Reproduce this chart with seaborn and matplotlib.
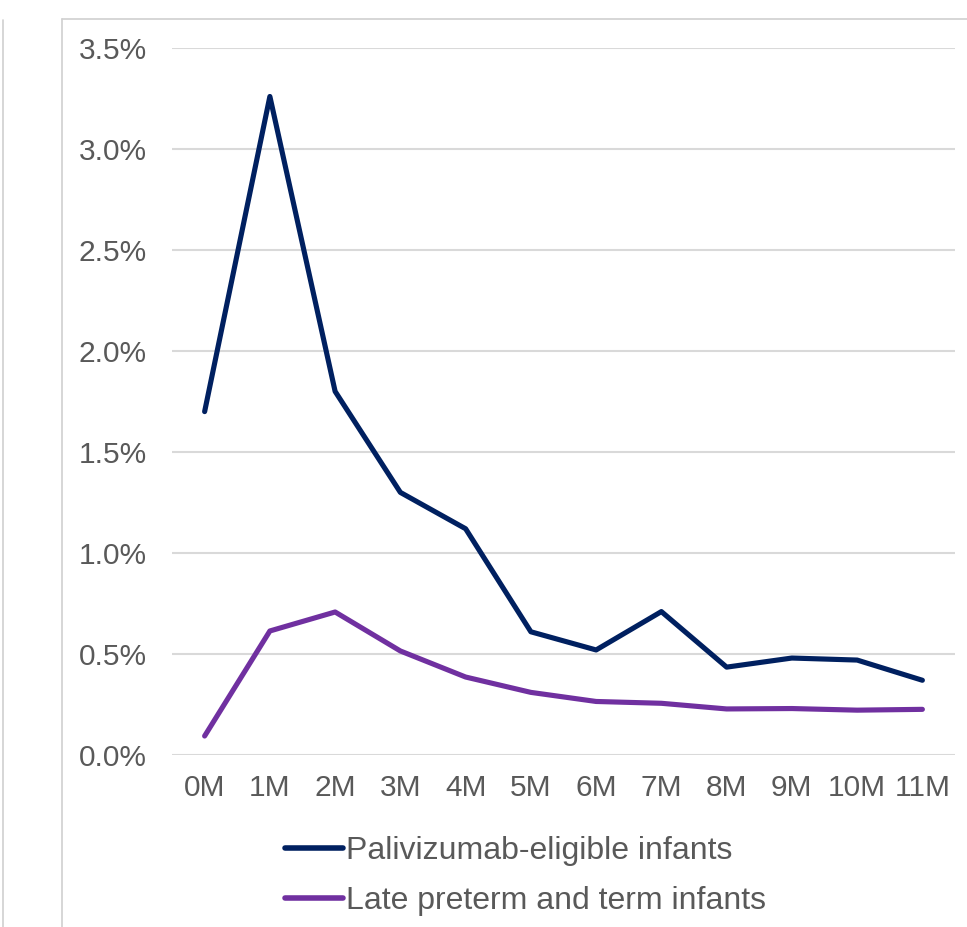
import matplotlib
matplotlib.use("Agg")
import matplotlib.pyplot as plt
import seaborn as sns
import pandas as pd
from matplotlib.lines import Line2D
from matplotlib.ticker import FuncFormatter

# Monthly rates (%) by age in months
months = ["0M", "1M", "2M", "3M", "4M", "5M", "6M", "7M", "8M", "9M", "10M", "11M"]
palivizumab_eligible = [1.70, 3.26, 1.80, 1.30, 1.12, 0.61, 0.52, 0.71, 0.435, 0.48, 0.47, 0.37]
late_preterm_term = [0.094, 0.614, 0.708, 0.515, 0.386, 0.31, 0.265, 0.256, 0.228, 0.23, 0.222, 0.226]
series_names = ["Palivizumab-eligible infants", "Late preterm and term infants"]
y_ticks = [0.0, 0.5, 1.0, 1.5, 2.0, 2.5, 3.0, 3.5]

NAVY = "#002060"
PURPLE = "#7030A0"
GRID = "#D9D9D9"
TEXT = "#595959"

sns.set_theme(style="white")
plt.rcParams["font.family"] = ["Liberation Sans", "DejaVu Sans"]

df = pd.DataFrame({
    "month": list(range(len(months))) * 2,
    "rate": palivizumab_eligible + late_preterm_term,
    "group": [series_names[0]] * len(months) + [series_names[1]] * len(months),
})

W, H = 967, 927
fig = plt.figure(figsize=(W / 100, H / 100), dpi=100)
fig.patch.set_facecolor("white")

ax = fig.add_axes([172 / W, (H - 755) / H, (955 - 172) / W, (755 - 48) / H])
sns.lineplot(data=df, x="month", y="rate", hue="group", palette=[NAVY, PURPLE],
             linewidth=3.7, legend=False, ax=ax, solid_capstyle="round",
             solid_joinstyle="round")

ax.set_xlim(-0.5, len(months) - 0.5)
ax.set_ylim(0, 3.5)
ax.set_xticks(range(len(months)))
ax.set_xticklabels(months)
ax.set_yticks(y_ticks)
ax.yaxis.set_major_formatter(FuncFormatter(lambda v, _: f"{v:.1f}%"))
ax.set_xlabel("")
ax.set_ylabel("")
for s in ax.spines.values():
    s.set_visible(False)
ax.grid(axis="y", color=GRID, linewidth=1.5)
ax.grid(axis="x", visible=False)
ax.set_axisbelow(True)
ax.tick_params(axis="y", length=0, pad=18, labelsize=21.5, labelcolor=TEXT)
ax.tick_params(axis="x", length=0, pad=14, labelsize=21.5, labelcolor=TEXT)

handles = [Line2D([], [], color=NAVY, linewidth=4, solid_capstyle="round"),
           Line2D([], [], color=PURPLE, linewidth=4, solid_capstyle="round")]
leg = fig.legend(handles, series_names, loc="upper left",
                 bbox_to_anchor=(285 / W, 1 - 836 / H), frameon=False,
                 fontsize=23, handlelength=1.82, handletextpad=0.08,
                 labelspacing=0.63, borderpad=0, borderaxespad=0)
for t in leg.get_texts():
    t.set_color(TEXT)

# Chart frame edges
fig.add_artist(Line2D([62 / W, 62 / W], [0, 1 - 19 / H], transform=fig.transFigure,
                      color="#D0D0D0", linewidth=1.2))
fig.add_artist(Line2D([62 / W, 1], [1 - 19 / H, 1 - 19 / H], transform=fig.transFigure,
                      color="#D0D0D0", linewidth=1.2))
fig.add_artist(Line2D([2.5 / W, 2.5 / W], [0, 1 - 20 / H], transform=fig.transFigure,
                      color="#D0D0D0", linewidth=1.2))

fig.savefig("out.png", dpi=100, facecolor="white")
